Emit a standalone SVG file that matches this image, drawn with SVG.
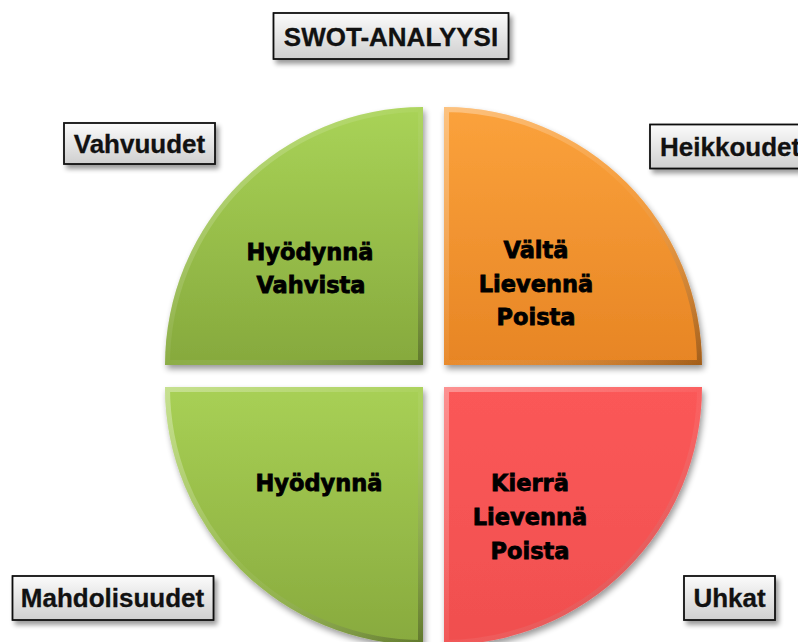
<svg xmlns="http://www.w3.org/2000/svg" width="798" height="642" viewBox="0 0 798 642">
<defs>
  <linearGradient id="gGreen1" x1="0" y1="0" x2="0" y2="1">
    <stop offset="0" stop-color="#a9d357"/>
    <stop offset="1" stop-color="#86a93d"/>
  </linearGradient>
  <linearGradient id="gGreen2" x1="0" y1="0" x2="0" y2="1">
    <stop offset="0" stop-color="#a8d055"/>
    <stop offset="1" stop-color="#88aa3e"/>
  </linearGradient>
  <linearGradient id="gOrange" x1="0" y1="0" x2="0" y2="1">
    <stop offset="0" stop-color="#fba23c"/>
    <stop offset="1" stop-color="#e78524"/>
  </linearGradient>
  <linearGradient id="gRed" x1="0" y1="0" x2="0" y2="1">
    <stop offset="0" stop-color="#fb5858"/>
    <stop offset="1" stop-color="#f04f4f"/>
  </linearGradient>
  <linearGradient id="gBevel" x1="0" y1="0" x2="1" y2="1">
    <stop offset="0" stop-color="#ffffff" stop-opacity="0.35"/>
    <stop offset="0.5" stop-color="#ffffff" stop-opacity="0.05"/>
    <stop offset="1" stop-color="#000000" stop-opacity="0.3"/>
  </linearGradient>
  <linearGradient id="gBox" x1="0" y1="0" x2="0" y2="1">
    <stop offset="0" stop-color="#fbfbfb"/>
    <stop offset="1" stop-color="#cfcfcf"/>
  </linearGradient>
  <filter id="shadow" x="-10%" y="-10%" width="130%" height="130%">
    <feGaussianBlur in="SourceAlpha" stdDeviation="3"/>
    <feOffset dx="2" dy="4" result="b"/>
    <feComponentTransfer><feFuncA type="linear" slope="0.4"/></feComponentTransfer>
    <feMerge><feMergeNode/><feMergeNode in="SourceGraphic"/></feMerge>
  </filter>
  <filter id="bshadow" x="-10%" y="-20%" width="130%" height="160%">
    <feGaussianBlur in="SourceAlpha" stdDeviation="2.5"/>
    <feOffset dx="3" dy="4" result="b"/>
    <feComponentTransfer><feFuncA type="linear" slope="0.4"/></feComponentTransfer>
    <feMerge><feMergeNode/><feMergeNode in="SourceGraphic"/></feMerge>
  </filter>
  <clipPath id="cTL"><path d="M423 365 L165 365 A258 258 0 0 1 423 107 Z"/></clipPath>
  <clipPath id="cTR"><path d="M444 365 L444 107 A258 258 0 0 1 702 365 Z"/></clipPath>
  <clipPath id="cBL"><path d="M423 387 L423 645 A258 258 0 0 1 165 387 Z"/></clipPath>
  <clipPath id="cBR"><path d="M444 387 L702 387 A258 258 0 0 1 444 645 Z"/></clipPath>
</defs>
<style>
  .qtext { font-family: "DejaVu Sans", "Liberation Sans", sans-serif; font-weight: bold; font-size: 22.5px; fill: #000; stroke: #000; stroke-width: 0.8; text-anchor: middle; }
  .btext { font-family: "Liberation Sans", Arial, sans-serif; font-weight: bold; font-size: 26px; fill: #111; stroke: #111; stroke-width: 0.3; }
  .box { fill: url(#gBox); stroke: #111; stroke-width: 1.8; }
  .bevel { fill: none; stroke: url(#gBevel); stroke-width: 10; }
</style>

<g id="strengths">
  <path d="M423 365 L165 365 A258 258 0 0 1 423 107 Z" fill="url(#gGreen1)" filter="url(#shadow)"/>
  <path d="M423 365 L165 365 A258 258 0 0 1 423 107 Z" class="bevel" clip-path="url(#cTL)"/>
  <text class="qtext" x="310" y="260">Hyödynnä</text>
  <text class="qtext" x="311" y="293">Vahvista</text>
</g>

<g id="weaknesses">
  <path d="M444 365 L444 107 A258 258 0 0 1 702 365 Z" fill="url(#gOrange)" filter="url(#shadow)"/>
  <path d="M444 365 L444 107 A258 258 0 0 1 702 365 Z" class="bevel" clip-path="url(#cTR)"/>
  <text class="qtext" x="536" y="258">Vältä</text>
  <text class="qtext" x="536" y="292">Lievennä</text>
  <text class="qtext" x="536" y="325">Poista</text>
</g>

<g id="opportunities">
  <path d="M423 387 L423 645 A258 258 0 0 1 165 387 Z" fill="url(#gGreen2)" filter="url(#shadow)"/>
  <path d="M423 387 L423 645 A258 258 0 0 1 165 387 Z" class="bevel" clip-path="url(#cBL)"/>
  <text class="qtext" x="319" y="491">Hyödynnä</text>
</g>

<g id="threats">
  <path d="M444 387 L702 387 A258 258 0 0 1 444 645 Z" fill="url(#gRed)" filter="url(#shadow)"/>
  <path d="M444 387 L702 387 A258 258 0 0 1 444 645 Z" class="bevel" clip-path="url(#cBR)"/>
  <text class="qtext" x="530" y="491">Kierrä</text>
  <text class="qtext" x="530" y="525">Lievennä</text>
  <text class="qtext" x="530" y="559">Poista</text>
</g>

<g id="title">
  <rect class="box" x="273.5" y="13" width="235" height="46" filter="url(#bshadow)"/>
  <text class="btext" x="391" y="46" text-anchor="middle">SWOT-ANALYYSI</text>
</g>

<g id="label-vahvuudet">
  <rect class="box" x="64" y="123" width="151" height="41" filter="url(#bshadow)"/>
  <text class="btext" x="139.5" y="153" text-anchor="middle">Vahvuudet</text>
</g>

<g id="label-heikkoudet">
  <rect class="box" x="650" y="124.5" width="170" height="44" filter="url(#bshadow)"/>
  <text class="btext" x="660" y="156">Heikkoudet</text>
</g>

<g id="label-mahdolisuudet">
  <rect class="box" x="12.5" y="576" width="201" height="44" filter="url(#bshadow)"/>
  <text class="btext" x="112.5" y="607" text-anchor="middle">Mahdolisuudet</text>
</g>

<g id="label-uhkat">
  <rect class="box" x="684" y="576" width="91" height="44" filter="url(#bshadow)"/>
  <text class="btext" x="729.5" y="607" text-anchor="middle">Uhkat</text>
</g>
</svg>
